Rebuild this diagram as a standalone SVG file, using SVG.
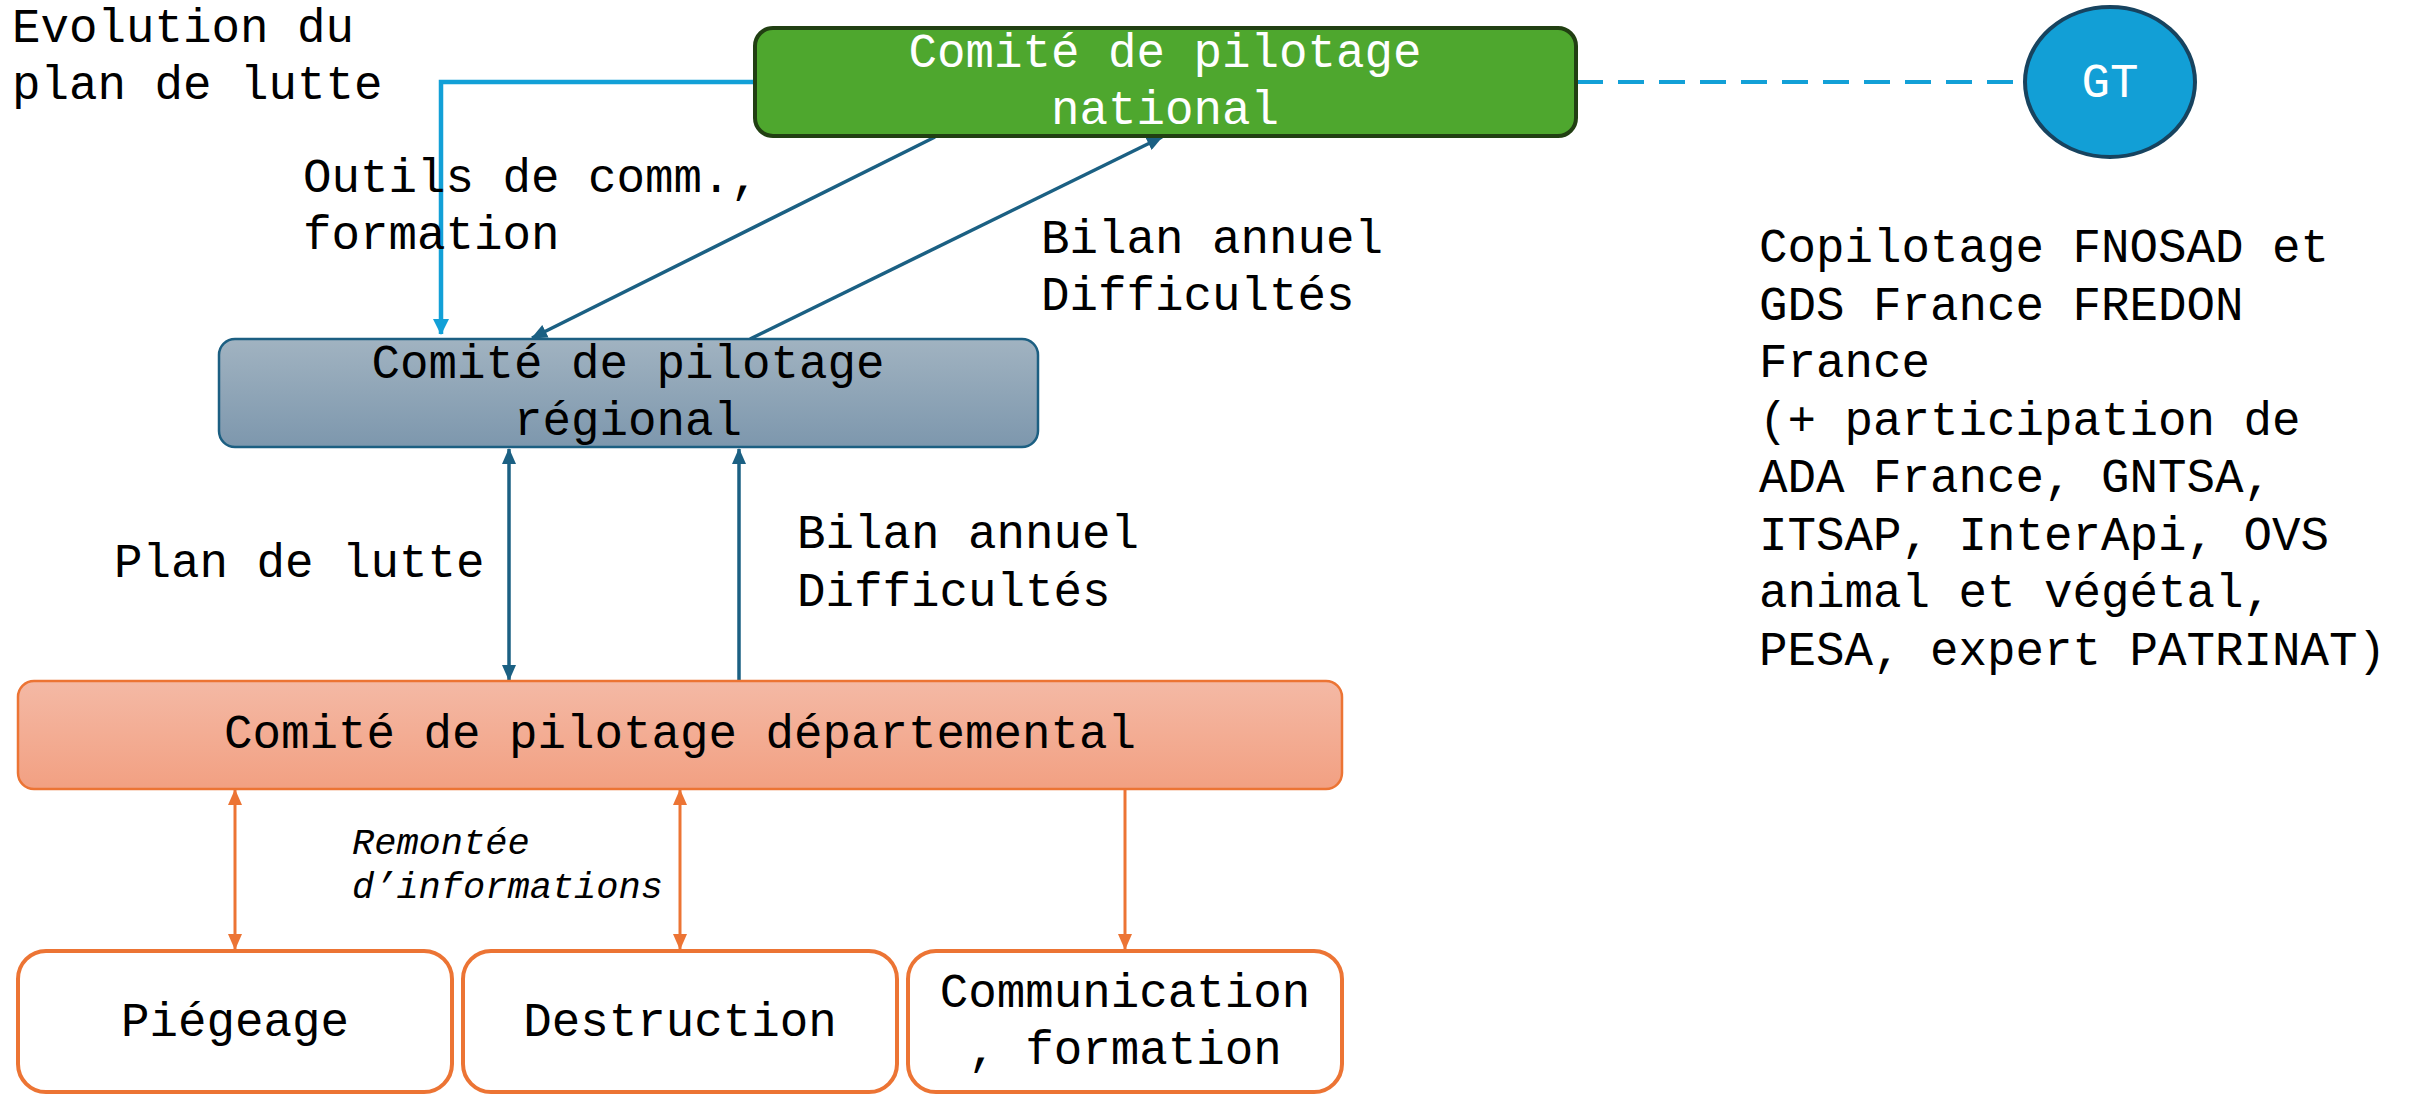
<svg xmlns="http://www.w3.org/2000/svg" width="2410" height="1094" viewBox="0 0 2410 1094">
  <defs>
    <linearGradient id="gReg" x1="0" y1="0" x2="0" y2="1">
      <stop offset="0" stop-color="#A1B3C1"/>
      <stop offset="1" stop-color="#7D97AD"/>
    </linearGradient>
    <linearGradient id="gDep" x1="0" y1="0" x2="0" y2="1">
      <stop offset="0" stop-color="#F4B9A5"/>
      <stop offset="1" stop-color="#F2A082"/>
    </linearGradient>
    <marker id="aBlue" markerUnits="userSpaceOnUse" markerWidth="16" markerHeight="16" viewBox="0 0 16 16" refX="15" refY="8" orient="auto-start-reverse">
      <path d="M0,0 L16,8 L0,16 Z" fill="#12A0D7"/>
    </marker>
    <marker id="aTeal" markerUnits="userSpaceOnUse" markerWidth="16" markerHeight="14" viewBox="0 0 16 14" refX="15" refY="7" orient="auto-start-reverse">
      <path d="M0,0 L16,7 L0,14 Z" fill="#1B6083"/>
    </marker>
    <marker id="aOrange" markerUnits="userSpaceOnUse" markerWidth="16" markerHeight="14" viewBox="0 0 16 14" refX="15" refY="7" orient="auto-start-reverse">
      <path d="M0,0 L16,7 L0,14 Z" fill="#EC7434"/>
    </marker>
  </defs>
  <style>
    text { font-family: "Liberation Mono", "DejaVu Sans Mono", monospace; font-size: 47.5px; fill: #000; }
    .w { fill: #fff; }
    .c { text-anchor: middle; }
    .it { font-style: italic; font-size: 37px; }
    .teal { stroke: #1B6083; stroke-width: 3.5; fill: none; }
    .orange { stroke: #EC7434; stroke-width: 3; fill: none; }
    .leaf { fill: #fff; stroke: #EC7434; stroke-width: 4; }
  </style>

  <g id="connectors">
    <path d="M755,82 H441 V334" stroke="#12A0D7" stroke-width="4.5" fill="none" marker-end="url(#aBlue)"/>
    <line x1="1577" y1="82" x2="2023" y2="82" stroke="#12A0D7" stroke-width="4" stroke-dasharray="26 15"/>
    <line class="teal" x1="935" y1="137" x2="532" y2="338" marker-end="url(#aTeal)"/>
    <line class="teal" x1="750" y1="339" x2="1162" y2="137" marker-end="url(#aTeal)"/>
    <line class="teal" x1="509" y1="449" x2="509" y2="680" marker-start="url(#aTeal)" marker-end="url(#aTeal)"/>
    <line class="teal" x1="739" y1="680" x2="739" y2="449" marker-end="url(#aTeal)"/>
    <line class="orange" x1="235" y1="790" x2="235" y2="949" marker-start="url(#aOrange)" marker-end="url(#aOrange)"/>
    <line class="orange" x1="680" y1="790" x2="680" y2="949" marker-start="url(#aOrange)" marker-end="url(#aOrange)"/>
    <line class="orange" x1="1125" y1="789" x2="1125" y2="949" marker-end="url(#aOrange)"/>
  </g>

  <g id="labels">
    <text x="12" y="42">Evolution du</text>
    <text x="12" y="99">plan de lutte</text>
    <text x="303" y="192">Outils de comm.,</text>
    <text x="303" y="249">formation</text>
    <text x="1041" y="253">Bilan annuel</text>
    <text x="1041" y="310">Difficultés</text>
    <text x="114" y="577">Plan de lutte</text>
    <text x="797" y="548">Bilan annuel</text>
    <text x="797" y="606">Difficultés</text>
    <text class="it" x="352" y="854">Remontée</text>
    <text class="it" x="352" y="898">d’informations</text>
    <text x="1759" y="262">Copilotage FNOSAD et</text>
    <text x="1759" y="320">GDS France FREDON</text>
    <text x="1759" y="377">France</text>
    <text x="1759" y="435">(+ participation de</text>
    <text x="1759" y="492">ADA France, GNTSA,</text>
    <text x="1759" y="550">ITSAP, InterApi, OVS</text>
    <text x="1759" y="607">animal et végétal,</text>
    <text x="1759" y="665">PESA, expert PATRINAT)</text>
  </g>

  <g id="national">
    <rect x="755" y="28" width="821" height="108" rx="18" fill="#4EA72E" stroke="#213F12" stroke-width="4"/>
    <text class="w c" x="1165" y="67">Comité de pilotage</text>
    <text class="w c" x="1165" y="124">national</text>
  </g>

  <g id="gt">
    <ellipse cx="2110" cy="82" rx="85" ry="75" fill="#129FD6" stroke="#17435F" stroke-width="4"/>
    <text class="w c" x="2110" y="97">GT</text>
  </g>

  <g id="regional">
    <rect x="219" y="339" width="819" height="108" rx="16" fill="url(#gReg)" stroke="#1C5F82" stroke-width="2.5"/>
    <text class="c" x="628" y="378">Comité de pilotage</text>
    <text class="c" x="628" y="435">régional</text>
  </g>

  <g id="departemental">
    <rect x="18" y="681" width="1324" height="108" rx="16" fill="url(#gDep)" stroke="#EC7434" stroke-width="2.5"/>
    <text class="c" x="680" y="748">Comité de pilotage départemental</text>
  </g>

  <g id="piegeage">
    <rect class="leaf" x="18" y="951" width="434" height="141" rx="28"/>
    <text class="c" x="235" y="1036">Piégeage</text>
  </g>

  <g id="destruction">
    <rect class="leaf" x="463" y="951" width="434" height="141" rx="28"/>
    <text class="c" x="680" y="1036">Destruction</text>
  </g>

  <g id="communication">
    <rect class="leaf" x="908" y="951" width="434" height="141" rx="28"/>
    <text class="c" x="1125" y="1007">Communication</text>
    <text class="c" x="1125" y="1064">, formation</text>
  </g>
</svg>
